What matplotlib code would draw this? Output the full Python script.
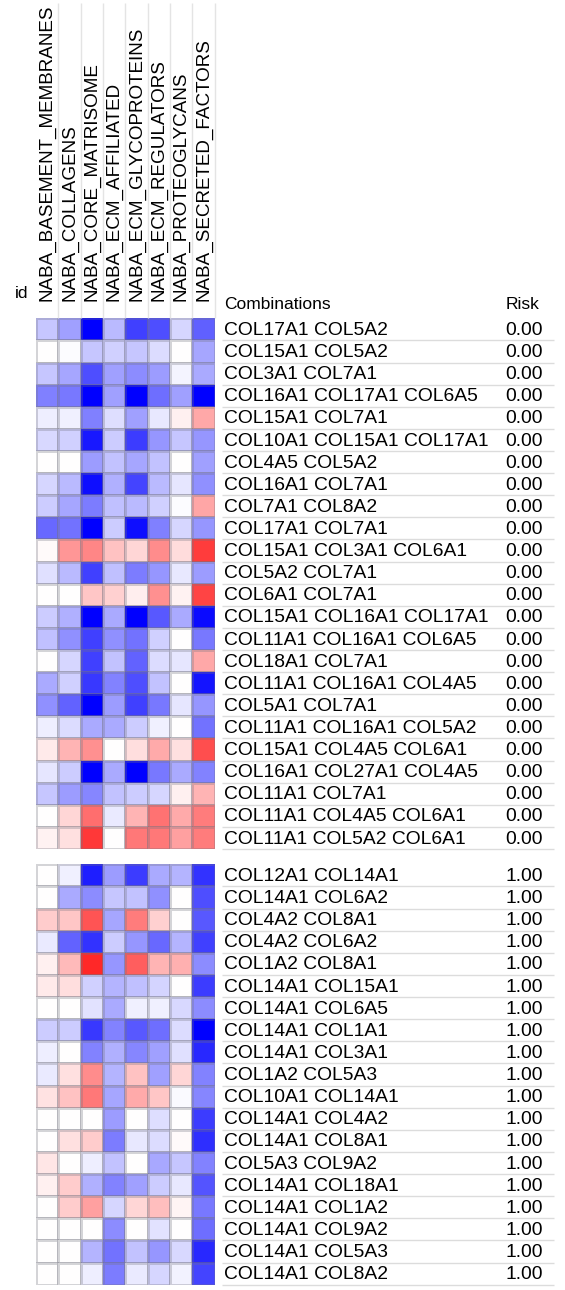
import numpy as np
import matplotlib
matplotlib.use("Agg")
import matplotlib.pyplot as plt

plt.rcParams['font.family'] = ['Liberation Sans', 'DejaVu Sans']

# gene set columns
categories = ["NABA_BASEMENT_MEMBRANES", "NABA_COLLAGENS", "NABA_CORE_MATRISOME",
              "NABA_ECM_AFFILIATED", "NABA_ECM_GLYCOPROTEINS", "NABA_ECM_REGULATORS",
              "NABA_PROTEOGLYCANS", "NABA_SECRETED_FACTORS"]

# low risk group
low_combos = ["COL17A1 COL5A2", "COL15A1 COL5A2", "COL3A1 COL7A1", "COL16A1 COL17A1 COL6A5",
              "COL15A1 COL7A1", "COL10A1 COL15A1 COL17A1", "COL4A5 COL5A2", "COL16A1 COL7A1",
              "COL7A1 COL8A2", "COL17A1 COL7A1", "COL15A1 COL3A1 COL6A1", "COL5A2 COL7A1",
              "COL6A1 COL7A1", "COL15A1 COL16A1 COL17A1", "COL11A1 COL16A1 COL6A5",
              "COL18A1 COL7A1", "COL11A1 COL16A1 COL4A5", "COL5A1 COL7A1",
              "COL11A1 COL16A1 COL5A2", "COL15A1 COL4A5 COL6A1", "COL16A1 COL27A1 COL4A5",
              "COL11A1 COL7A1", "COL11A1 COL4A5 COL6A1", "COL11A1 COL5A2 COL6A1"]
low_risk = [0.0] * 24
low_scores = [
    [-0.22, -0.37, -1.00, -0.27, -0.75, -0.69, -0.16, -0.62],
    [0.00, -0.01, -0.22, -0.18, -0.22, -0.14, 0.00, -0.35],
    [-0.22, -0.35, -0.69, -0.37, -0.45, -0.39, -0.04, -0.33],
    [-0.50, -0.53, -1.00, -0.37, -1.00, -0.57, -0.37, -1.00],
    [-0.07, -0.06, -0.50, -0.13, -0.37, -0.09, 0.06, 0.34],
    [-0.15, -0.18, -0.90, -0.20, -0.76, -0.41, -0.22, -0.41],
    [0.00, 0.00, -0.39, -0.24, -0.35, -0.24, 0.00, -0.37],
    [-0.16, -0.27, -0.94, -0.31, -0.73, -0.27, -0.10, -0.43],
    [-0.20, -0.35, -0.51, -0.25, -0.27, -0.18, -0.01, 0.35],
    [-0.59, -0.55, -1.00, -0.20, -0.94, -0.50, -0.16, -0.41],
    [0.02, 0.41, 0.47, 0.24, 0.16, 0.45, 0.14, 0.76],
    [-0.12, -0.27, -0.75, -0.25, -0.51, -0.41, -0.09, -0.39],
    [0.00, 0.00, 0.22, 0.18, 0.07, 0.43, 0.05, 0.73],
    [-0.20, -0.31, -1.00, -0.33, -1.00, -0.65, -0.33, -0.96],
    [-0.25, -0.43, -0.75, -0.43, -0.55, -0.18, 0.00, -0.53],
    [0.00, -0.16, -0.75, -0.24, -0.61, -0.14, -0.10, 0.34],
    [-0.33, -0.18, -0.78, -0.49, -0.69, -0.24, 0.00, -0.92],
    [-0.43, -0.61, -1.00, -0.39, -0.75, -0.53, -0.10, -0.41],
    [-0.07, -0.14, -0.33, -0.33, -0.20, -0.06, 0.00, -0.55],
    [0.08, 0.29, 0.43, 0.00, 0.13, 0.33, 0.12, 0.69],
    [-0.10, -0.20, -1.00, -0.33, -1.00, -0.53, -0.33, -0.49],
    [-0.22, -0.39, -0.47, -0.24, -0.20, -0.16, 0.06, 0.29],
    [0.00, 0.16, 0.57, -0.08, 0.29, 0.55, 0.33, 0.51],
    [0.05, 0.12, 0.78, 0.00, 0.53, 0.53, 0.37, 0.51],
]

# high risk group
high_combos = ["COL12A1 COL14A1", "COL14A1 COL6A2", "COL4A2 COL8A1", "COL4A2 COL6A2",
               "COL1A2 COL8A1", "COL14A1 COL15A1", "COL14A1 COL6A5", "COL14A1 COL1A1",
               "COL14A1 COL3A1", "COL1A2 COL5A3", "COL10A1 COL14A1", "COL14A1 COL4A2",
               "COL14A1 COL8A1", "COL5A3 COL9A2", "COL14A1 COL18A1", "COL14A1 COL1A2",
               "COL14A1 COL9A2", "COL14A1 COL5A3", "COL14A1 COL8A2"]
high_risk = [1.0] * 19
high_scores = [
    [0.00, -0.06, -0.88, -0.39, -0.76, -0.33, -0.29, -0.80],
    [0.00, -0.33, -0.45, -0.22, -0.24, -0.43, 0.00, -0.69],
    [0.20, 0.22, 0.67, -0.35, 0.51, 0.18, 0.00, -0.65],
    [-0.08, -0.61, -0.80, -0.20, -0.41, -0.59, -0.29, -0.75],
    [0.06, 0.27, 0.84, -0.41, 0.63, 0.29, 0.31, -0.45],
    [0.08, 0.13, -0.18, -0.29, -0.25, -0.17, 0.00, -0.76],
    [0.00, 0.00, -0.11, -0.33, -0.06, -0.06, -0.15, -0.45],
    [-0.20, -0.20, -0.78, -0.49, -0.65, -0.57, -0.14, -1.00],
    [-0.07, 0.00, -0.49, -0.31, -0.47, -0.37, -0.12, -0.84],
    [-0.08, 0.12, 0.45, -0.29, 0.24, -0.37, 0.16, -0.49],
    [0.11, 0.24, 0.53, -0.35, 0.33, 0.22, -0.02, -0.47],
    [0.00, 0.00, 0.00, -0.39, 0.00, -0.13, 0.00, -0.76],
    [0.00, 0.12, 0.20, -0.51, -0.09, -0.14, 0.02, -0.82],
    [0.10, 0.00, -0.07, -0.24, 0.00, -0.34, -0.22, -0.49],
    [0.06, 0.20, -0.31, -0.49, -0.37, -0.20, -0.09, -0.67],
    [0.00, 0.20, 0.37, -0.16, 0.16, 0.25, 0.04, -0.53],
    [0.00, 0.00, 0.00, -0.45, 0.00, -0.11, 0.00, -0.57],
    [0.00, 0.00, -0.29, -0.55, -0.24, -0.41, -0.15, -0.84],
    [0.00, 0.00, -0.07, -0.51, -0.08, -0.16, -0.05, -0.73],
]

W, H = 565, 1290
fig = plt.figure(figsize=(W / 100, H / 100), dpi=100)


def box(x0, y0, x1, y1):
    # pixel box (top-left origin) -> figure fraction
    return [x0 / W, 1 - y1 / H, (x1 - x0) / W, (y1 - y0) / H]


def draw_group(top, bottom, combos, scores, risk, header=False):
    n = len(combos)
    hm = fig.add_axes(box(36, top, 214.7, bottom))
    hm.pcolormesh(np.array(scores), cmap='bwr', vmin=-1, vmax=1,
                  edgecolors=(0.45, 0.45, 0.5, 0.3), linewidth=0.8)
    hm.set_xlim(0, len(categories))
    hm.set_ylim(n, 0)
    hm.axis('off')

    tx = fig.add_axes(box(214.7, top, 565, bottom))
    tx.set_xlim(214.7, 565)
    tx.set_ylim(n, 0)
    tx.axis('off')
    for i, (c, r) in enumerate(zip(combos, risk)):
        tx.text(224, i + 0.55, c, fontsize=13.9, ha='left', va='center')
        tx.text(543, i + 0.55, f"{r:.2f}", fontsize=13.9, ha='right', va='center')
    tx.hlines(np.arange(1, n + 1), 222, 554, color='#dcdcdc', lw=1, clip_on=False)

    if header:
        for j, name in enumerate(categories):
            hm.text(j + 0.5, -0.8, name, rotation=90, ha='center', va='bottom',
                    fontsize=13.6, clip_on=False)
        hm.vlines(np.arange(1, len(categories) + 1), -14.25, 0, color='#e4e4e4',
                  lw=1, clip_on=False)
        hm.text(-0.65, -0.8, "id", ha='center', va='bottom', fontsize=12.5, clip_on=False)
        tx.text(224, -0.3, "Combinations", ha='left', va='bottom', fontsize=12.5)
        tx.text(506, -0.3, "Risk", ha='left', va='bottom', fontsize=12.5)


draw_group(318.3, 849, low_combos, low_scores, low_risk, header=True)
draw_group(864.3, 1284.7, high_combos, high_scores, high_risk)

fig.savefig("out.png", dpi=100, facecolor='white')
